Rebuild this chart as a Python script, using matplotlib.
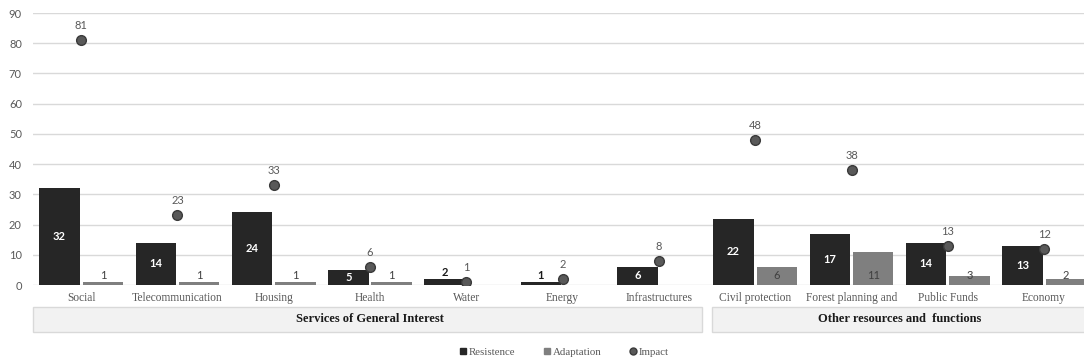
import numpy as np
import matplotlib
matplotlib.use("Agg")
import matplotlib.pyplot as plt
from matplotlib.patches import Rectangle
from matplotlib.lines import Line2D
import matplotlib.transforms as mtransforms

categories = ["Social", "Telecommunication", "Housing", "Health", "Water", "Energy",
              "Infrastructures", "Civil protection", "Forest planning and",
              "Public Funds", "Economy"]
resistence = [32, 14, 24, 5, 2, 1, 6, 22, 17, 14, 13]
adaptation = [1, 1, 1, 1, None, None, None, 6, 11, 3, 2]
impact = [81, 23, 33, 6, 1, 2, 8, 48, 38, 13, 12]
groups = ["Services of General Interest", "Other resources and  functions"]
group_spans = [(0, 6), (7, 10)]

SERIF = "Liberation Serif"
SANS = "Lato"
c_res = "#262626"
c_ada = "#7f7f7f"
c_imp = "#595959"
c_txt = "#595959"

fig = plt.figure(figsize=(10.84, 3.63), dpi=100)
ax = fig.add_axes([33 / 1084, 1 - 285 / 363, (1084 - 33) / 1084, 272 / 363])

x = np.arange(len(categories))
w = 0.42
off = 0.225

ax.bar(x - off, resistence, width=w, color=c_res, zorder=2)
ada_vals = [np.nan if v is None else v for v in adaptation]
ax.bar(x + off, ada_vals, width=w, color=c_ada, zorder=2)
ax.plot(x, impact, "o", ms=7, mfc=c_imp, mec="#3a3a3a", mew=1, zorder=4, ls="none")

# data labels
for xi, v in zip(x, resistence):
    if v >= 5:
        ax.text(xi - off, v / 2, str(v), ha="center", va="center", color="white",
                fontsize=8, fontweight="bold", family=SANS, zorder=5)
    else:
        ax.annotate(str(v), (xi - off, v), xytext=(0, 1), textcoords="offset points",
                    ha="center", va="bottom", color="#1a1a1a", fontsize=8,
                    fontweight="bold", family=SANS, zorder=5)
for xi, v in zip(x, adaptation):
    if v is None:
        continue
    ax.text(xi + off, 3.3, str(v), ha="center", va="center", color="#404040",
            fontsize=8, family=SANS, zorder=5)
for xi, v in zip(x, impact):
    ax.annotate(str(v), (xi, v), xytext=(0, 10.5), textcoords="offset points",
                ha="center", va="center", color=c_txt, fontsize=8, family=SANS, zorder=5)

ax.set_xlim(-0.5, -0.5 + (1084 - 33) / 96.3)
ax.set_ylim(0, 90)
ax.set_yticks(np.arange(0, 91, 10))
ax.yaxis.grid(True, color="#d9d9d9", lw=1, zorder=0)
ax.set_axisbelow(True)
for s in ax.spines.values():
    s.set_visible(False)
ax.tick_params(axis="y", length=0, pad=8, labelsize=8, labelcolor=c_txt)
for lb in ax.get_yticklabels():
    lb.set_family(SANS)
ax.set_xticks(x)
ax.set_xticklabels(categories, family=SERIF, fontsize=8.3, color=c_txt)
ax.tick_params(axis="x", length=0, pad=5)

# group boxes below the axis
trans = mtransforms.blended_transform_factory(ax.transData, fig.transFigure)
y0 = 1 - 332 / 363
h = 25 / 363
for (a, b), name in zip(group_spans, groups):
    left = a - 0.5 + (0.0 if a == 0 else 0.05)
    right = b + 0.5 - 0.05 if b < len(categories) - 1 else b + 0.6
    ax.add_patch(Rectangle((left, y0), right - left, h, transform=trans,
                           facecolor="#f2f2f2", edgecolor="#d9d9d9", lw=1,
                           clip_on=False))
    cx = (a - 0.5 + b + 0.5) / 2
    ax.text(cx, y0 + h / 2, name, transform=trans, ha="center", va="center",
            family=SERIF, fontweight="bold", fontsize=9, color="#1a1a1a")

handles = [
    Line2D([], [], marker="s", ls="none", color=c_res, ms=5),
    Line2D([], [], marker="s", ls="none", color=c_ada, ms=5),
    Line2D([], [], marker="o", ls="none", mfc=c_imp, mec="#3a3a3a", ms=5),
]
fig.legend(handles, ["Resistence", "Adaptation", "Impact"], loc="center",
           bbox_to_anchor=(563 / 1084, 1 - 352 / 363), ncol=3, frameon=False,
           prop={"family": SERIF, "size": 7.8}, labelcolor=c_txt,
           handletextpad=0.05, columnspacing=2.4, handlelength=1)

fig.savefig("out.png", dpi=100)
